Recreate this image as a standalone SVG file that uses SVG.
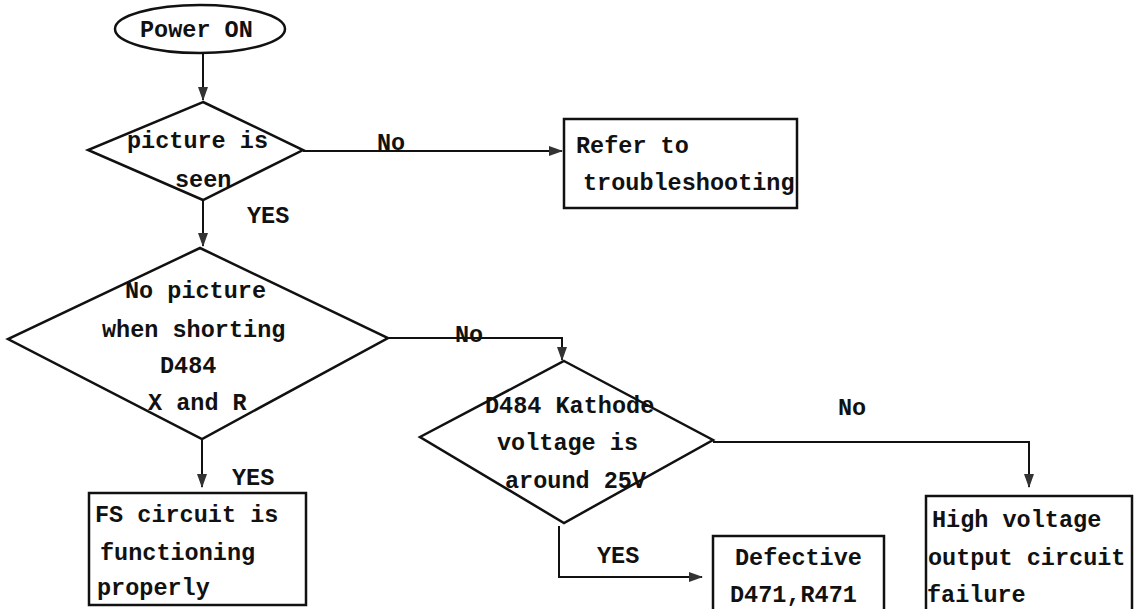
<svg xmlns="http://www.w3.org/2000/svg" width="1134" height="609" viewBox="0 0 1134 609">
<style>
.s{fill:none;stroke:#111;stroke-width:2.5}
.c{fill:none;stroke:#111;stroke-width:2}
.t{font-family:"Liberation Mono",monospace;font-size:23.5px;font-weight:bold;fill:#111}
</style>
<defs>
<marker id="a" viewBox="0 0 14 10" refX="13" refY="5" markerWidth="14" markerHeight="10" markerUnits="userSpaceOnUse" orient="auto">
<path d="M0,0 L14,5 L0,10 Z" fill="#333"/>
</marker>
</defs>
<rect width="1134" height="609" fill="#fff"/>
<g id="connectors">
<path class="c" d="M203,53 V100" marker-end="url(#a)"/>
<path class="c" d="M303,151 H562" marker-end="url(#a)"/>
<path class="c" d="M203,200 V246" marker-end="url(#a)"/>
<path class="c" d="M388,338 H562 V360" marker-end="url(#a)"/>
<path class="c" d="M202,439 V487" marker-end="url(#a)"/>
<path class="c" d="M713,442 H1029 V487" marker-end="url(#a)"/>
<path class="c" d="M559,526 V577 H702" marker-end="url(#a)"/>
<text class="t" x="377" y="150">No</text>
<text class="t" x="247" y="223">YES</text>
<text class="t" x="455" y="342">No</text>
<text class="t" x="232" y="485">YES</text>
<text class="t" x="838" y="415">No</text>
<text class="t" x="597" y="563">YES</text>
</g>
<g id="power-on">
<ellipse class="s" cx="200" cy="29" rx="85" ry="24"/>
<text class="t" x="140" y="37">Power ON</text>
</g>
<g id="picture-seen">
<polygon class="s" points="203,102 303,150 203,200 88,150"/>
<text class="t" x="127" y="148">picture is</text>
<text class="t" x="175" y="187">seen</text>
</g>
<g id="refer">
<rect class="s" x="564" y="119" width="233" height="89"/>
<text class="t" x="576" y="153">Refer to</text>
<text class="t" x="583" y="190">troubleshooting</text>
</g>
<g id="no-picture-shorting">
<polygon class="s" points="200,248 388,338 202,439 8,339"/>
<text class="t" x="125" y="298">No picture</text>
<text class="t" x="102" y="337">when shorting</text>
<text class="t" x="160" y="373">D484</text>
<text class="t" x="148" y="410">X and R</text>
</g>
<g id="fs-ok">
<rect class="s" x="89" y="493" width="217" height="112"/>
<text class="t" x="95" y="522">FS circuit is</text>
<text class="t" x="100" y="560">functioning</text>
<text class="t" x="97" y="595">properly</text>
</g>
<g id="kathode-voltage">
<polygon class="s" points="564,361 713,440 564,523 420,437"/>
<text class="t" x="485" y="413">D484 Kathode</text>
<text class="t" x="497" y="450">voltage is</text>
<text class="t" x="505" y="488">around 25V</text>
</g>
<g id="defective">
<rect class="s" x="713" y="536" width="171" height="80"/>
<text class="t" x="735" y="565">Defective</text>
<text class="t" x="730" y="602">D471,R471</text>
</g>
<g id="hv-failure">
<rect class="s" x="926" y="496" width="206" height="120"/>
<text class="t" x="932" y="527">High voltage</text>
<text class="t" x="928" y="565">output circuit</text>
<text class="t" x="927" y="602">failure</text>
</g>
</svg>
